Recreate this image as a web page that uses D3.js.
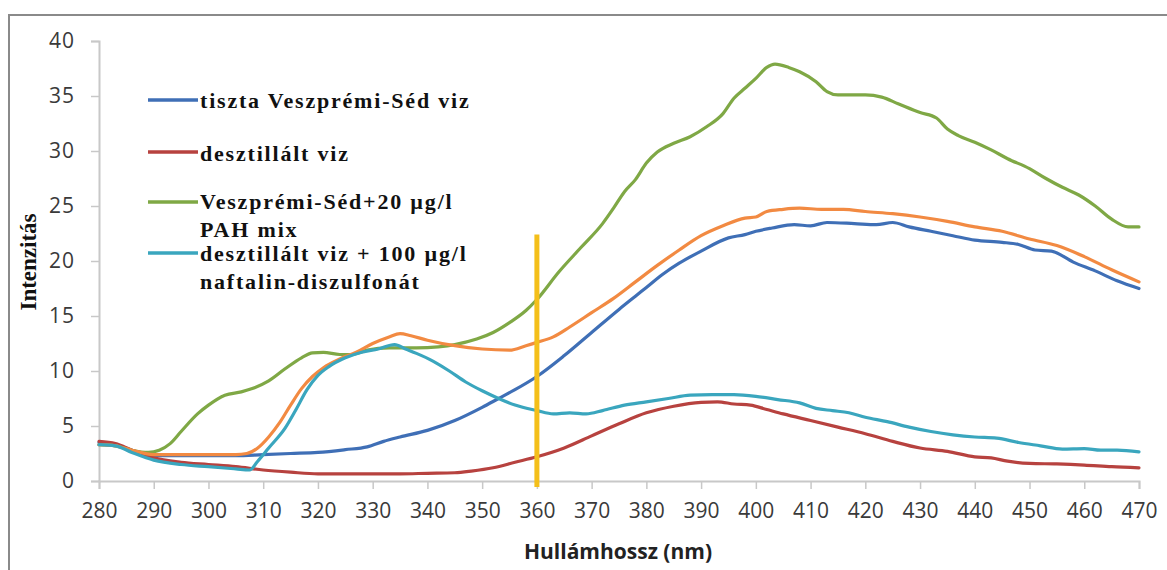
<!DOCTYPE html>
<html><head><meta charset="utf-8">
<script src="https://cdn.jsdelivr.net/npm/d3@7"></script>
<style>
html,body{margin:0;padding:0;background:#fff;}
svg{display:block;}
</style></head>
<body>
<svg id="chart" width="1167" height="570"></svg>
<script>
// ---- data ----
const xTicks = [280,290,300,310,320,330,340,350,360,370,380,390,400,410,420,430,440,450,460,470];
const yTicks = [0,5,10,15,20,25,30,35,40];
const markerWavelength = 360;

const blueSeries = [[280,3.5],[283,3.3],[286,2.8],[290,2.3],[295,2.3],[300,2.3],[305,2.3],[310,2.4],[315,2.5],[320,2.6],[325,2.85],[329,3.1],[332,3.6],[335,4.0],[340,4.6],[345,5.5],[350,6.7],[353,7.5],[356,8.3],[360,9.5],[365,11.4],[370,13.5],[375,15.6],[378,16.8],[380,17.6],[383,18.8],[386,19.8],[390,20.9],[395,22.1],[398,22.4],[400,22.7],[403,23.0],[407,23.3],[410,23.2],[413,23.5],[418,23.4],[422,23.3],[425,23.5],[428,23.1],[432,22.7],[436,22.3],[440,21.9],[445,21.7],[448,21.5],[451,21.0],[454,20.9],[458,19.9],[462,19.1],[466,18.2],[470,17.5]];
const redSeries = [[280,3.6],[283,3.4],[286,2.8],[290,2.1],[295,1.7],[300,1.5],[305,1.3],[310,1.0],[315,0.8],[320,0.65],[325,0.65],[330,0.65],[335,0.65],[340,0.7],[345,0.75],[348,0.9],[352,1.2],[356,1.7],[360,2.2],[365,3.0],[370,4.1],[375,5.2],[380,6.2],[385,6.8],[390,7.15],[393,7.2],[396,7.0],[399,6.9],[402,6.5],[405,6.1],[410,5.5],[415,4.9],[420,4.3],[425,3.6],[430,3.0],[435,2.7],[440,2.2],[443,2.1],[446,1.8],[450,1.6],[455,1.55],[460,1.45],[465,1.3],[470,1.2]];
const greenSeries = [[280,3.3],[283,3.2],[286,2.8],[289,2.6],[291,2.8],[293,3.4],[295,4.5],[298,6.1],[300,6.9],[303,7.8],[306,8.1],[308,8.4],[311,9.1],[314,10.2],[317,11.2],[319,11.65],[321,11.7],[324,11.5],[326,11.5],[329,11.9],[333,12.1],[338,12.1],[342,12.2],[345,12.4],[349,12.9],[352,13.5],[355,14.4],[358,15.5],[360,16.5],[364,19.0],[368,21.2],[372,23.4],[374,24.8],[376,26.3],[378,27.4],[380,28.9],[382,29.9],[385,30.7],[388,31.3],[391,32.2],[394,33.4],[396,34.8],[398,35.7],[400,36.6],[402,37.6],[403.5,37.9],[406,37.6],[408,37.2],[411,36.3],[413,35.4],[415,35.1],[420,35.1],[423,34.9],[426,34.3],[430,33.5],[433,33.0],[435,32.0],[437,31.4],[440,30.8],[443,30.1],[446,29.3],[450,28.4],[453,27.5],[456,26.7],[459,26.0],[462,25.0],[465,23.8],[468,23.1],[470,23.1]];
const tealSeries = [[280,3.3],[283,3.2],[286,2.6],[290,1.9],[295,1.5],[300,1.3],[305,1.1],[307.5,1.0],[309,1.8],[311,3.0],[314,4.8],[316,6.5],[318,8.3],[320,9.6],[322,10.4],[325,11.2],[328,11.7],[331,12.0],[334,12.4],[336,12.0],[338,11.6],[341,10.9],[344,10.0],[347,9.0],[350,8.2],[353,7.5],[356,6.9],[360,6.4],[363,6.1],[366,6.2],[369,6.1],[372,6.4],[376,6.9],[380,7.2],[384,7.5],[388,7.8],[392,7.85],[396,7.85],[400,7.7],[404,7.4],[408,7.1],[411,6.6],[414,6.4],[417,6.2],[420,5.8],[424,5.4],[428,4.9],[432,4.5],[436,4.2],[440,4.0],[444,3.9],[448,3.5],[452,3.2],[456,2.9],[460,2.95],[463,2.8],[466,2.8],[470,2.65]];
const orangeSeries = [[280,3.3],[283,3.2],[286,2.8],[290,2.4],[295,2.4],[300,2.4],[305,2.4],[307,2.5],[309,3.0],[311,4.0],[313,5.3],[315,6.9],[317,8.4],[319,9.5],[321,10.3],[324,11.1],[327,11.7],[330,12.5],[333,13.1],[335,13.4],[337,13.2],[340,12.8],[345,12.3],[350,12.0],[355,11.9],[358,12.3],[360,12.6],[363,13.1],[366,14.0],[370,15.3],[374,16.6],[378,18.1],[382,19.6],[386,21.0],[390,22.3],[394,23.2],[398,23.9],[400,24.0],[402,24.5],[405,24.7],[408,24.8],[412,24.7],[416,24.7],[420,24.5],[425,24.3],[430,24.0],[435,23.6],[440,23.1],[445,22.7],[450,22.0],[455,21.4],[460,20.4],[465,19.2],[470,18.1]];

const seriesNames = ["tiszta Veszprémi-Séd viz","desztillált viz","Veszprémi-Séd+20 µg/l|PAH mix","desztillált viz + 100 µg/l|naftalin-diszulfonát",""];
const seriesColors = ["#3f6fb6","#b7423f","#7fa845","#3aa6be","#f28a42"];
const seriesData = [blueSeries, redSeries, greenSeries, tealSeries, orangeSeries];

// ---- drawing ----
const svg = d3.select("#chart");
const x = d3.scaleLinear().domain([280,470]).range([99,1139]);
const y = d3.scaleLinear().domain([0,40]).range([481,41]);

// frame
svg.append("path").attr("d","M9,570 L9,15 L1167,15").attr("fill","none").attr("stroke","#8a8a8a").attr("stroke-width",2);

// axes
const yAxis = svg.append("g").attr("transform",`translate(${x(280)},0)`)
  .call(d3.axisLeft(y).tickValues(yTicks).tickSize(8).tickPadding(14).tickFormat(d3.format("d")));
const xAxis = svg.append("g").attr("transform",`translate(0,${y(0)})`)
  .call(d3.axisBottom(x).tickValues(xTicks).tickSize(8).tickPadding(14).tickFormat(d3.format("d")));
[yAxis,xAxis].forEach(g=>{
  g.select(".domain").attr("stroke","#c8c8c8").attr("stroke-width",2);
  g.selectAll(".tick line").attr("stroke","#c8c8c8").attr("stroke-width",1.5);
  g.selectAll(".tick text").attr("fill","#3a3a3a").style("font-family","'Open Sans', sans-serif").style("font-size","21px");
});
yAxis.selectAll(".tick text").attr("dx","-2").style("letter-spacing","1px");

// lines
const line = d3.line().x(d=>x(d[0])).y(d=>y(d[1])).curve(d3.curveMonotoneX);
const order = [0,1,2,4,3];
order.forEach(i=>{
  svg.append("path").datum(seriesData[i]).attr("d",line)
    .attr("fill","none").attr("stroke",seriesColors[i]).attr("stroke-width",3.2)
    .attr("stroke-linejoin","round").attr("stroke-linecap","round");
});

// marker line
svg.append("line").attr("x1",x(markerWavelength)).attr("x2",x(markerWavelength))
  .attr("y1",y(22.4)).attr("y2",y(-0.55)).attr("stroke","#f4bf1a").attr("stroke-width",5);

// legend
const legendRows = [
  {line:100, base:[108]},
  {line:152, base:[161]},
  {line:202, base:[209,237]},
  {line:253, base:[261,289]}
];
legendRows.forEach((r,i)=>{
  svg.append("line").attr("x1",148).attr("x2",198).attr("y1",r.line).attr("y2",r.line)
    .attr("stroke",seriesColors[i]).attr("stroke-width",3.5);
  const parts = seriesNames[i].split("|");
  parts.forEach((p,j)=>{
    svg.append("text").attr("x",200).attr("y",r.base[j]).text(p)
      .style("font-family","'Liberation Serif','Times New Roman',serif").style("font-weight","bold")
      .style("font-size","22px").style("letter-spacing","1.8px").attr("fill","#111");
  });
});

// axis titles
svg.append("text").attr("transform","translate(36,262) rotate(-90)").attr("text-anchor","middle")
  .text("Intenzitás").style("font-family","'Liberation Serif',serif").style("font-weight","bold")
  .style("font-size","23px").attr("fill","#111");
svg.append("text").attr("x",618).attr("y",559).attr("text-anchor","middle")
  .text("Hullámhossz (nm)").style("font-family","'Open Sans',sans-serif").style("font-weight","bold")
  .style("font-size","21px").attr("fill","#222");
</script>
</body></html>
